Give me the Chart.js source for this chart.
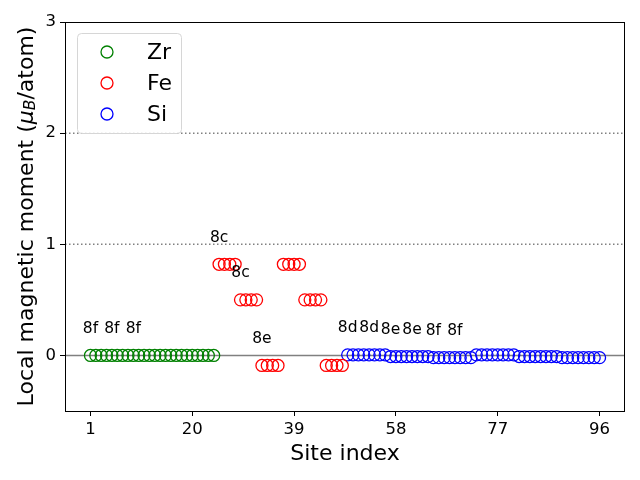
<!DOCTYPE html>
<html>
<head>
<meta charset="utf-8">
<script src="https://cdn.jsdelivr.net/npm/chart.js@4/dist/chart.umd.min.js"></script>
<style>
  body { margin: 0; background: #fff; }
  canvas { display: block; }
</style>
</head>
<body>
<canvas id="chart" width="640" height="480"></canvas>
<script>
// Valeurs
const elements = ['Zr', 'Fe', 'Si'];
const colors = ['#008000', '#ff0000', '#0000ff'];
const firstSite = [1, 25, 49];

const zrMoments = [
    0, 0, 0, 0, 0, 0, 0, 0,
    0, 0, 0, 0, 0, 0, 0, 0,
    0, 0, 0, 0, 0, 0, 0, 0
];
const feMoments = [
    0.82, 0.82, 0.82, 0.82, 0.50, 0.50, 0.50, 0.50,
    -0.09, -0.09, -0.09, -0.09, 0.82, 0.82, 0.82, 0.82,
    0.50, 0.50, 0.50, 0.50, -0.09, -0.09, -0.09, -0.09
];
const siMoments = [
    0.005, 0.005, 0.005, 0.005, 0.005, 0.005, 0.005, 0.005,
    -0.01, -0.01, -0.01, -0.01, -0.01, -0.01, -0.01, -0.01,
    -0.02, -0.02, -0.02, -0.02, -0.02, -0.02, -0.02, -0.02,
    0.005, 0.005, 0.005, 0.005, 0.005, 0.005, 0.005, 0.005,
    -0.01, -0.01, -0.01, -0.01, -0.01, -0.01, -0.01, -0.01,
    -0.02, -0.02, -0.02, -0.02, -0.02, -0.02, -0.02, -0.02
];
const moments = [zrMoments, feMoments, siMoments];

// Etiquettes de Wyckoff
const labelSites = [1, 5, 9, 25, 29, 33, 49, 53, 57, 61, 65, 69];
const labelTexts = ['8f', '8f', '8f', '8c', '8c', '8e', '8d', '8d', '8e', '8e', '8f', '8f'];

const xTicks = [1, 20, 39, 58, 77, 96];
const yTicks = [0, 1, 2, 3];
const dottedLevels = [1, 2];

const FONT = "'DejaVu Sans', sans-serif";

function momentAt (site) {
    for (let k = 0; k < moments.length; k++) {
        const idx = site - firstSite[k];
        if (idx >= 0 && idx < moments[k].length) return moments[k][idx];
    }
    return 0;
}

const datasets = elements.map((name, k) => ({
    label: name,
    data: moments[k].map((m, i) => ({ x: firstSite[k] + i, y: m })),
    pointStyle: 'circle',
    pointRadius: 6,
    pointHoverRadius: 6,
    pointBorderWidth: 1.3,
    borderColor: colors[k],
    pointBorderColor: colors[k],
    pointBackgroundColor: 'rgba(0,0,0,0)',
    showLine: false
}));

// Lignes de reference, cadre, textes
const decorPlugin = {
    id: 'decor',
    beforeDatasetsDraw (chart) {
        const { ctx, chartArea: a, scales: { y } } = chart;
        ctx.save();
        ctx.strokeStyle = '#808080';
        ctx.lineWidth = 1.5;
        ctx.setLineDash([1.5, 2.5]);
        for (const lv of dottedLevels) {
            const py = y.getPixelForValue(lv);
            ctx.beginPath();
            ctx.moveTo(a.left, py);
            ctx.lineTo(a.right, py);
            ctx.stroke();
        }
        ctx.setLineDash([]);
        const p0 = y.getPixelForValue(0);
        ctx.beginPath();
        ctx.moveTo(a.left, p0);
        ctx.lineTo(a.right, p0);
        ctx.stroke();
        ctx.restore();
    },
    afterDatasetsDraw (chart) {
        const { ctx, chartArea: a, scales: { x, y } } = chart;
        ctx.save();
        // etiquettes
        ctx.fillStyle = '#000';
        ctx.font = '15.5px ' + FONT;
        ctx.textAlign = 'center';
        ctx.textBaseline = 'middle';
        labelSites.forEach((s, i) => {
            ctx.fillText(labelTexts[i], x.getPixelForValue(s), y.getPixelForValue(momentAt(s) + 0.24));
        });

        // legende
        const lx = 77, ly = 33, lw = 104, lh = 100;
        ctx.fillStyle = 'rgba(255,255,255,0.8)';
        ctx.strokeStyle = '#d6d6d6';
        ctx.lineWidth = 1;
        ctx.beginPath();
        ctx.roundRect(lx + 0.5, ly + 0.5, lw, lh, 4);
        ctx.fill();
        ctx.stroke();
        ctx.font = '22px ' + FONT;
        ctx.textAlign = 'left';
        chart.data.datasets.forEach((ds, i) => {
            const cy = 52 + i * 31;
            ctx.strokeStyle = ds.borderColor;
            ctx.lineWidth = 1.3;
            ctx.beginPath();
            ctx.arc(107, cy, 6, 0, Math.PI * 2);
            ctx.stroke();
            ctx.fillStyle = '#000';
            ctx.fillText(ds.label, 147, cy + 1);
        });

        // cadre
        ctx.strokeStyle = '#000';
        ctx.lineWidth = 1;
        ctx.strokeRect(Math.round(a.left) + 0.5, Math.round(a.top) + 0.5,
            Math.round(a.right - a.left) - 1, Math.round(a.bottom - a.top));

        // titres des axes
        ctx.fillStyle = '#000';
        ctx.font = '22px ' + FONT;
        ctx.textAlign = 'center';
        ctx.textBaseline = 'middle';
        ctx.fillText('Site index', (a.left + a.right) / 2, 454);

        ctx.translate(27, (a.top + a.bottom) / 2);
        ctx.rotate(-Math.PI / 2);
        const parts = [
            { t: 'Local magnetic moment (', f: '22px ' + FONT, dy: 0 },
            { t: 'μ', f: 'italic 22px ' + FONT, dy: 0 },
            { t: 'B', f: 'italic 15.5px ' + FONT, dy: 4 },
            { t: '/atom)', f: '22px ' + FONT, dy: 0 }
        ];
        let total = 0;
        for (const p of parts) { ctx.font = p.f; total += ctx.measureText(p.t).width; }
        let cx = -total / 2;
        ctx.textAlign = 'left';
        for (const p of parts) {
            ctx.font = p.f;
            ctx.fillText(p.t, cx, p.dy);
            cx += ctx.measureText(p.t).width;
        }
        ctx.restore();
    }
};

new Chart(document.getElementById('chart'), {
    type: 'scatter',
    data: { datasets },
    options: {
        responsive: false,
        animation: false,
        devicePixelRatio: 1,
        layout: { padding: { top: 22, right: 15, left: 0, bottom: 0 } },
        plugins: {
            legend: { display: false },
            tooltip: { enabled: false }
        },
        scales: {
            x: {
                type: 'linear',
                min: -3.75,
                max: 100.75,
                afterBuildTicks: (s) => { s.ticks = xTicks.map(v => ({ value: v })); },
                afterFit: (s) => { s.height = 69; },
                border: { display: false },
                grid: { drawOnChartArea: false, drawTicks: true, tickLength: 5, color: '#000', tickColor: '#000' },
                ticks: { color: '#000', padding: 4, maxRotation: 0, autoSkip: false, font: { family: FONT, size: 16.5 } }
            },
            y: {
                min: -0.5,
                max: 3,
                afterBuildTicks: (s) => { s.ticks = yTicks.map(v => ({ value: v })); },
                afterFit: (s) => { s.width = 65; },
                border: { display: false },
                grid: { drawOnChartArea: false, drawTicks: true, tickLength: 5, color: '#000', tickColor: '#000' },
                ticks: { color: '#000', padding: 4, autoSkip: false, font: { family: FONT, size: 16.5 } }
            }
        }
    },
    plugins: [decorPlugin]
});
</script>
</body>
</html>
